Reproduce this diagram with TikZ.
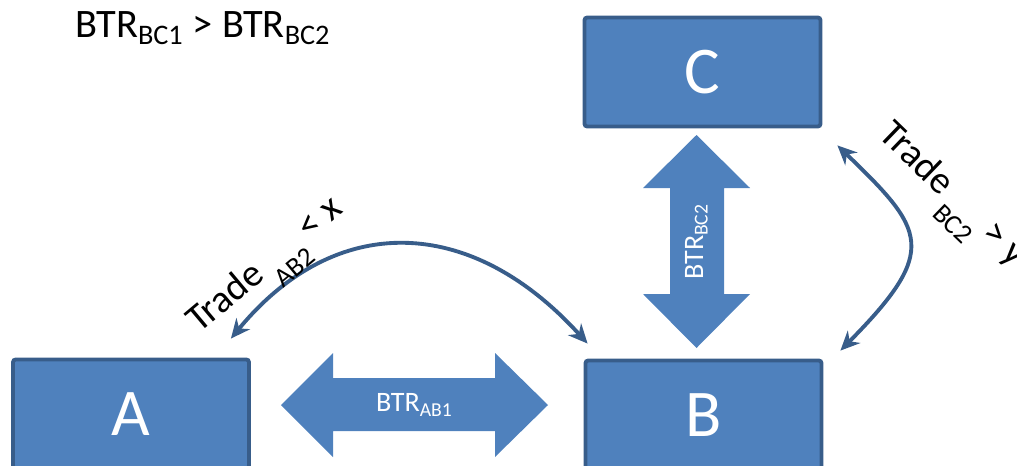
\documentclass[tikz,border=0pt]{standalone}
\usepackage{fontspec}
\setmainfont{Carlito}
\usetikzlibrary{arrows.meta,positioning}
\definecolor{boxfill}{HTML}{4F81BD}
\definecolor{boxline}{HTML}{385D8A}
% lowered index after a trade
\newcommand{\tsub}[1]{\raisebox{-0.5em}{\fontsize{15.5}{15.5}\selectfont #1}}

\begin{document}
\begin{tikzpicture}[x=0.02cm, y=-0.02cm]
\tikzset{
  site/.style={rectangle, rounded corners=1.5pt, draw=boxline, fill=boxfill, line width=2.2pt,
    minimum width=4.72cm, minimum height=2.18cm, text=white, font=\fontsize{38}{38}\selectfont},
  fat/.style={fill=boxfill},
  fatlabel/.style={text=white, font=\fontsize{16}{16}\selectfont, inner sep=0pt},
  trade/.style={draw=boxline, line width=2.2pt, {Stealth[length=11pt,width=10pt]}-{Stealth[length=11pt,width=10pt]}},
  note/.style={font=\fontsize{23}{23}\selectfont, inner sep=0pt},
  tradenote/.style={note, font=\fontsize{22}{22}\selectfont, anchor=base west}
}
\useasboundingbox (0,0) rectangle (1017,466);
\clip (0,0) rectangle (1017,466);

% the three sites
\node[site] (c) at (702.5,72) {C};
\node[site] (a) at (131,414) {A};
\node[site] (b) at (703.5,415) {B};

% fat two-way arrows between the sites
\coordinate (ab) at (414.5,405);
\fill[fat] (281,405) -- (333,353) -- (333,378) -- (495,378) -- (495,353) -- (548,405)
  -- (495,457) -- (495,431) -- (333,431) -- (333,457) -- cycle;
\node[fatlabel] (btrab) at (ab) {BTR\textsubscript{AB1}};

\coordinate (bc) at (696.5,241.5);
\fill[fat] (696.5,135) -- (750,188) -- (724,188) -- (724,294) -- (750,294) -- (696.5,348)
  -- (643,294) -- (670,294) -- (670,188) -- (643,188) -- cycle;
\node[fatlabel, rotate=90] (btrbc) at (bc) {BTR\textsubscript{BC2}};

% trade routes
\coordinate (ta) at ([shift={(-20,-19)}]a.north east);
\coordinate (tb) at ([shift={(4,-15)}]b.north west);
\draw[trade] (ta) .. controls (335,212) and (470,214) .. (tb);

\coordinate (tc) at ([shift={(15,17)}]c.south east);
\coordinate (tb2) at ([shift={(17,-8)}]b.north east);
\draw[trade] (tc) .. controls (925,230) and (940,250) .. (tb2);

% labels
\node[note, anchor=base west] (cond) at (75,38) {BTR\textsubscript{BC1} > BTR\textsubscript{BC2}};
\node[tradenote, rotate=40] (lab) at (199,334) {Trade\,\tsub{AB2}\,{<} x};
\node[tradenote, rotate=-44] (lbc) at (877,136) {Trade\,\tsub{BC2}\,{>} y};
\end{tikzpicture}
\end{document}
